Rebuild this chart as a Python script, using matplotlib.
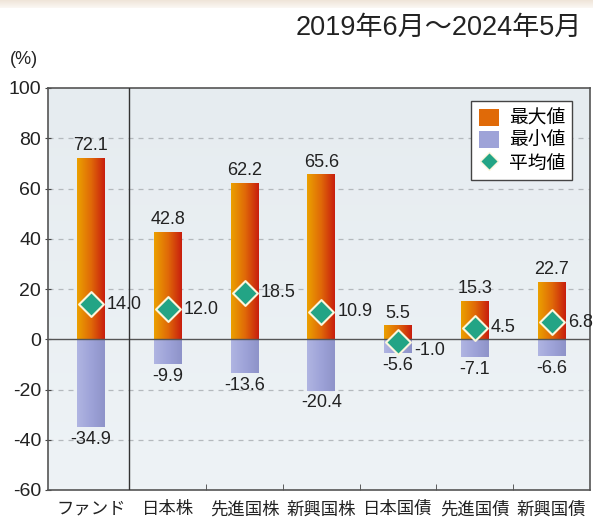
import numpy as np
import matplotlib
matplotlib.use("Agg")
import matplotlib.pyplot as plt
from matplotlib.colors import LinearSegmentedColormap
from matplotlib.lines import Line2D
from matplotlib.patches import Patch

plt.rcParams['font.family'] = ['Liberation Sans', 'Noto Sans CJK JP', 'DejaVu Sans']

categories = ['ファンド', '日本株', '先進国株', '新興国株', '日本国債', '先進国債', '新興国債']
max_vals = [72.1, 42.8, 62.2, 65.6, 5.5, 15.3, 22.7]
min_vals = [-34.9, -9.9, -13.6, -20.4, -5.6, -7.1, -6.6]
mean_vals = [14.0, 12.0, 18.5, 10.9, -1.0, 4.5, 6.8]
yticks = [100, 80, 60, 40, 20, 0, -20, -40, -60]
period = '2019年6月～2024年5月'

W, H = 593, 521
fig = plt.figure(figsize=(W/100, H/100), dpi=100)
fig.patch.set_facecolor('white')

# top decorative strip
strip = fig.add_axes([0, 1 - 8/H, 1, 8/H])
strip.imshow(np.linspace(0, 1, 50).reshape(-1, 1), aspect='auto',
             cmap=LinearSegmentedColormap.from_list('s', ['#efe4d8', '#fbf8f4']),
             extent=[0, 1, 0, 1])
strip.axis('off')

ax = fig.add_axes([48/W, 1 - 490/H, 542/W, 402/H])
x = np.arange(len(categories))
xl = (-0.56, 6.5)
yl = (-60, 100)

# background gradient
ax.imshow(np.linspace(0, 1, 100).reshape(-1, 1), aspect='auto',
          cmap=LinearSegmentedColormap.from_list('bg', ['#e6ecf0', '#eef3f6']),
          extent=[xl[0], xl[1], yl[0], yl[1]], zorder=0)

for t in yticks:
    if t not in (0, 100, -60):
        ax.axhline(t, color='#b4b9bd', lw=0.9, ls=(0, (4, 4)), zorder=1)

bw = 0.36
max_cmap = LinearSegmentedColormap.from_list('mx', ['#eba000', '#e06a08', '#c81e0e'])
min_cmap = LinearSegmentedColormap.from_list('mn', ['#b0b5e2', '#9ea3d8', '#8e93c9'])
grad = np.linspace(0, 1, 100).reshape(1, -1)

bars_max = ax.bar(x, max_vals, width=bw, color='#e06a08', zorder=2)
bars_min = ax.bar(x, min_vals, width=bw, color='#9ea3d8', zorder=2)
for bars, cmap in ((bars_max, max_cmap), (bars_min, min_cmap)):
    for b in bars:
        bx, by = b.get_x(), b.get_y()
        w, h = b.get_width(), b.get_height()
        im = ax.imshow(grad, aspect='auto', cmap=cmap,
                       extent=[bx, bx + w, by, by + h], zorder=2.1)
        im.set_clip_path(b)

ax.axhline(0, color='#555555', lw=1.0, zorder=3)
ax.axvline(0.5, color='#333333', lw=1.0, zorder=3)

ax.scatter(x, mean_vals, marker='D', s=160, color='#23a485',
           edgecolor='#fbf6dc', linewidth=1.5, zorder=4)

for xi, v in zip(x, max_vals):
    ax.text(xi, v + 1.5, f'{v:.1f}', ha='center', va='bottom', fontsize=13, color='#222222', zorder=5)
for xi, v in zip(x, min_vals):
    ax.text(xi, v - 1.5, f'{v:.1f}', ha='center', va='top', fontsize=13, color='#222222', zorder=5)
for xi, v in zip(x, mean_vals):
    yy = v if v >= 0 else v - 3.5
    ax.text(xi + 0.21, yy, f'{v:.1f}', ha='left', va='center', fontsize=13, color='#222222', zorder=5)

ax.set_xlim(*xl)
ax.set_ylim(*yl)
ax.set_yticks(yticks)
ax.set_yticklabels([str(t) for t in yticks], fontsize=14, color='#222222')
ax.set_xticks(x)
ax.set_xticklabels(categories, fontsize=12.5, color='#222222')
ax.tick_params(axis='x', length=0, pad=8)
ax.tick_params(axis='y', length=4, direction='inout', pad=3, color='#444444')
ax.set_xticks(np.arange(1.5, 6.5, 1), minor=True)
ax.tick_params(axis='x', which='minor', length=4, direction='in', color='#444444')
for s in ax.spines.values():
    s.set_color('#555555')
    s.set_linewidth(1.2)

handles = [Patch(facecolor='#e06a08', edgecolor='none'),
           Patch(facecolor='#9ea3d8', edgecolor='none'),
           Line2D([], [], marker='D', ls='none', markersize=9, color='#23a485',
                  markeredgecolor='#fbf6dc')]
leg = ax.legend(handles, ['最大値', '最小値', '平均値'], loc='upper right',
                bbox_to_anchor=(0.985, 0.99), fontsize=13.5, frameon=True,
                fancybox=False, edgecolor='#444444', framealpha=1,
                handlelength=1.1, handleheight=1.0, handletextpad=0.5,
                borderpad=0.4, labelspacing=0.2)
leg.get_frame().set_linewidth(1.0)

fig.text(582/W, 1 - 28/H, period, ha='right', va='center', fontsize=19.5, color='#222222')
fig.text(10/W, 1 - 60/H, '(%)', ha='left', va='center', fontsize=13, color='#222222')

fig.savefig('out.png', dpi=100)
